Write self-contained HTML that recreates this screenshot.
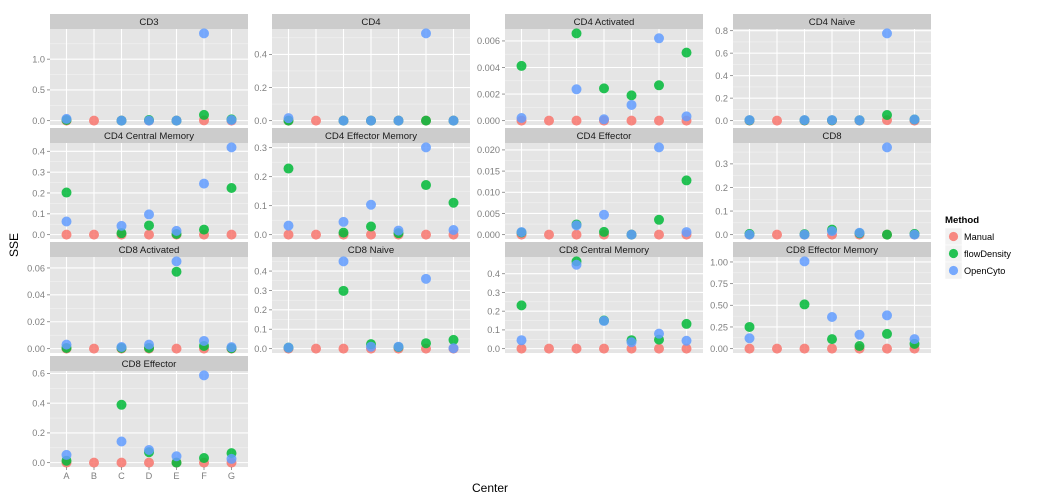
<!DOCTYPE html>
<html><head><meta charset="utf-8"><style>
html,body{margin:0;padding:0;background:#fff;}
svg{display:block;font-family:"Liberation Sans",Arial,sans-serif;}
</style></head><body>
<svg id="chart" width="1044" height="504" viewBox="0 0 1044 504" xmlns="http://www.w3.org/2000/svg">
<text x="18" y="245" font-size="12" fill="#000" text-anchor="middle" transform="rotate(-90 18 245)">SSE</text>
<text x="490" y="492" font-size="12" fill="#000" text-anchor="middle">Center</text>
<g>
<text x="945" y="223" font-size="9.6" font-weight="bold" fill="#000">Method</text>
</g>
</svg>
<script>
const categories = ["A","B","C","D","E","F","G"];
const methods = ["Manual","flowDensity","OpenCyto"];
const panelNames = ["CD3","CD4","CD4 Activated","CD4 Naive","CD4 Central Memory","CD4 Effector Memory","CD4 Effector","CD8","CD8 Activated","CD8 Naive","CD8 Central Memory","CD8 Effector Memory","CD8 Effector"];
const manualVals = [
[0,0,0,0,0,0.005,0],[0,0,0,0,0,0,0],[0,0,0,0,0,0,0],[0,0,0,0,0,0.005,0],
[0,0,0,0,0,0,0],[0,0,0,0,0,0,0],[0,0,0,0,0,0,0],[0,0,0,0,0,0,0],
[0,0,0,0,0,0,0],[0,0,0,0,0,0,0],[0,0,0,0,0,0,0],[0,0,0,0,0,0,0],[0,0,0,0,0,0,0]];
const flowVals = [
[0.01,null,0,0.01,0,0.093,0.02],
[0.0,null,0,0,0,0.0,0],
[0.00412,null,0.00657,0.00243,0.0019,0.00266,0.00512],
[0.003,null,0.003,0.003,0.003,0.05,0.01],
[0.202,null,0.007,0.044,0.003,0.024,0.224],
[0.228,null,0.007,0.028,0.005,0.171,0.110],
[0.0005,null,0.0024,0.00064,0,0.0035,0.0128],
[0.003,null,0.002,0.021,0.006,0.0,0.003],
[0.0005,null,0.0005,0.0005,0.0572,0.002,0.0003],
[0.005,null,0.298,0.023,0.008,0.028,0.045],
[0.231,null,0.466,0.15,0.045,0.048,0.132],
[0.25,null,0.51,0.11,0.03,0.17,0.055],
[0.013,null,0.389,0.07,0.0,0.031,0.064]];
const cytoVals = [
[0.028,null,0,0,0,1.42,0.01],
[0.015,null,0,0,0,0.527,0],
[0.0002,null,0.00236,0.0001,0.00118,0.0062,0.00032],
[0.005,null,0.005,0.005,0.003,0.776,0.01],
[0.063,null,0.042,0.097,0.018,0.245,0.419],
[0.031,null,0.044,0.103,0.014,0.301,0.016],
[0.0006,null,0.0022,0.0047,0,0.0206,0.0006],
[0.0,null,0.0,0.015,0.008,0.37,0.0],
[0.003,null,0.0012,0.003,0.0649,0.0057,0.0011],
[0.005,null,0.45,0.01,0.01,0.36,0.002],
[0.045,null,0.448,0.148,0.034,0.08,0.042],
[0.12,null,1.007,0.365,0.16,0.384,0.11],
[0.052,null,0.142,0.085,0.043,0.587,0.025]];
const tickLabels = [
["0.0","0.5","1.0"],["0.0","0.2","0.4"],["0.000","0.002","0.004","0.006"],["0.0","0.2","0.4","0.6","0.8"],
["0.0","0.1","0.2","0.3","0.4"],["0.0","0.1","0.2","0.3"],["0.000","0.005","0.010","0.015","0.020"],["0.0","0.1","0.2","0.3"],
["0.00","0.02","0.04","0.06"],["0.0","0.1","0.2","0.3","0.4"],["0.0","0.1","0.2","0.3","0.4"],["0.00","0.25","0.50","0.75","1.00"],["0.0","0.2","0.4","0.6"]];

const colors = ["#F8766D","#00BA38","#619CFF"];
const NS = "http://www.w3.org/2000/svg";
const svg = document.getElementById("chart");
const colX = [50,272,505,733], rowY = [14,128,242,356], PW = 198, SH = 15, PH = 96;
function mk(tag, attrs, parent){ const e=document.createElementNS(NS,tag); for(const k in attrs) e.setAttribute(k,attrs[k]); (parent||svg).appendChild(e); return e; }

panelNames.forEach((name,i)=>{
  const col=i%4, row=Math.floor(i/4);
  const x0=colX[col], sy=rowY[row], y0=sy+SH, y1=y0+PH;
  const g=mk("g",{});
  
  
  const series=[manualVals[i],flowVals[i],cytoVals[i]];
  const all=[].concat(...series).filter(v=>v!==null);
  const mn=Math.min(...all), mx=Math.max(...all), r=(mx-mn)||1;
  const lo=mn-0.05*r, hi=mx+0.05*r;
  const ys=v=>y1-(v-lo)/(hi-lo)*PH;
  const xs=k=>x0+(k+0.6)/7.2*PW;
  const st=mk("rect",{x:x0,y:sy,width:PW,height:SH,fill:"#cccccc"},g);
  
  
  const stt=mk("text",{x:x0+PW/2,y:sy+11,"font-size":"9.6","text-anchor":"middle",fill:"#1a1a1a"},g);
  stt.textContent=name;
  
  
  mk("rect",{x:x0,y:y0,width:PW,height:PH,fill:"#e5e5e5"},g);
  const ticks=tickLabels[i].map(Number);
  const step=ticks[1]-ticks[0];
  for(let t=ticks[0]-step/2;t<=hi;t+=step){ if(t<lo) continue; mk("line",{x1:x0,x2:x0+PW,y1:ys(t),y2:ys(t),stroke:"#f2f2f2","stroke-width":"0.6"},g); }
  ticks.forEach((t,j)=>{
    if(t<lo||t>hi) return;
    const y=ys(t);
    mk("line",{x1:x0,x2:x0+PW,y1:y,y2:y,stroke:"#ffffff","stroke-width":"1.1"},g);
    mk("line",{x1:x0-3,x2:x0,y1:y,y2:y,stroke:"#7f7f7f","stroke-width":"0.8"},g);
    const tl=mk("text",{x:x0-5,y:y+3.3,"font-size":"9.2","text-anchor":"end",fill:"#7f7f7f"},g);
    tl.textContent=tickLabels[i][j];
    
    
  });
  categories.forEach((c,k)=>{ mk("line",{x1:xs(k),x2:xs(k),y1:y0,y2:y1,stroke:"#ffffff","stroke-width":"1.1"},g); });
  series.forEach((vals,m)=>{
    vals.forEach((v,k)=>{
      if(v===null) return;
      const p=mk("circle",{cx:xs(k),cy:ys(v),r:"5",fill:colors[m],"fill-opacity":"0.85"},g);
      
      
    });
  });
  if(i===12){
    categories.forEach((c,k)=>{
      mk("line",{x1:xs(k),x2:xs(k),y1:y1,y2:y1+3,stroke:"#7f7f7f","stroke-width":"0.8"},g);
      const xl=mk("text",{x:xs(k),y:y1+12,"font-size":"9.2","text-anchor":"middle",fill:"#7f7f7f"},g);
      xl.textContent=c;
      
      
    });
  }
});
methods.forEach((m,j)=>{
  const ky=228+j*17;
  const kg=mk("g",{});
  
  
  mk("rect",{x:945,y:ky,width:17,height:17,fill:"#f2f2f2",stroke:"#ffffff","stroke-width":"0.5"},kg);
  mk("circle",{cx:953.5,cy:ky+8.5,r:"4.6",fill:colors[j],"fill-opacity":"0.85"},kg);
  const t=mk("text",{x:964,y:ky+12,"font-size":"9.2",fill:"#000"},kg);
  t.textContent=m;
});
</script>
</body></html>
